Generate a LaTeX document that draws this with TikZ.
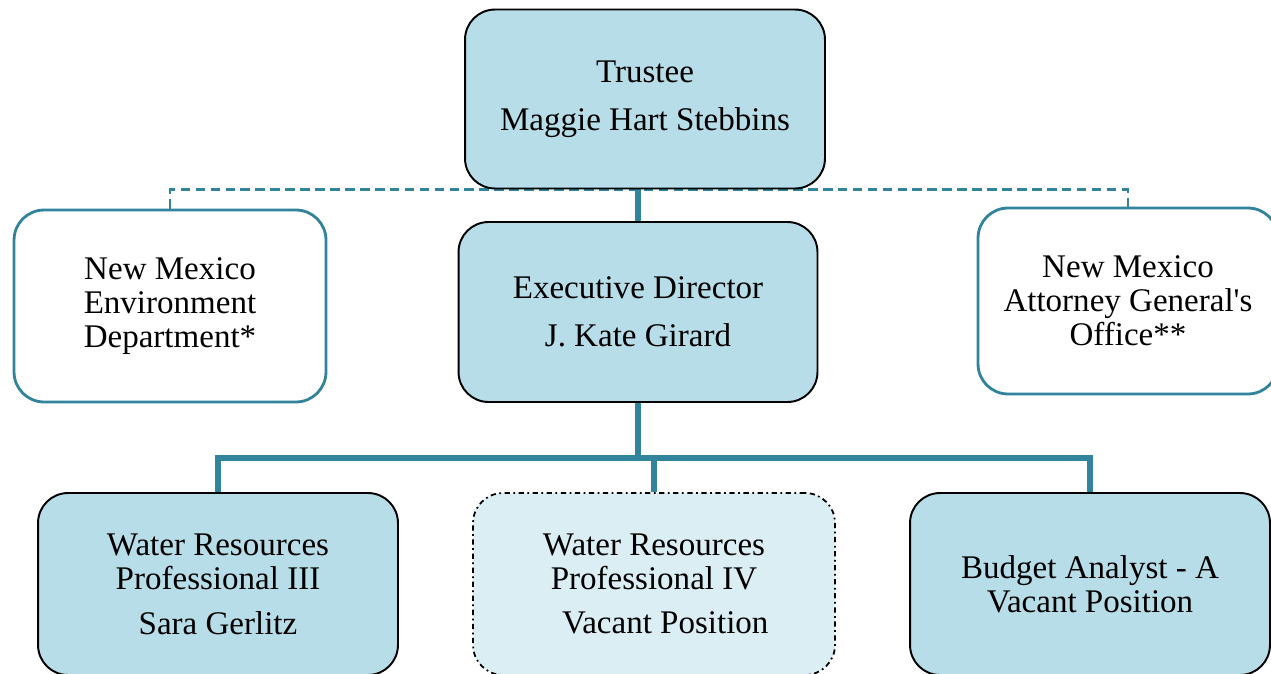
\documentclass[tikz,border=0pt]{standalone}
\usepackage{fontspec}
\setmainfont{Liberation Serif}[Ligatures=TeXOff]
\usetikzlibrary{backgrounds}

\definecolor{boxblue}{HTML}{B7DDE8}
\definecolor{paleblue}{HTML}{DBEEF3}
\definecolor{tealline}{HTML}{31849B}

\begin{document}
\begin{tikzpicture}[x=0.02cm, y=-0.02cm,
		box/.style={rectangle, rounded corners=0.6cm, align=center, inner sep=0pt,
			font=\fontsize{18.8}{19.4}\selectfont},
		filled/.style={box, fill=boxblue, draw=black, line width=1.1pt},
		outer/.style={box, fill=white, draw=tealline, line width=1.6pt},
		vacant/.style={box, fill=paleblue, draw=black, line width=1pt, dash dot},
		link/.style={draw=tealline, line width=3.4pt},
		dotlink/.style={draw=tealline, line width=1.6pt, dash pattern=on 5.5pt off 3pt}]
		\useasboundingbox (0,0) rectangle (1271,673);
		\node (trustee) [filled, minimum width=7.2cm, minimum height=3.58cm] at (645,99)
			{Trustee\\[8pt] Maggie Hart Stebbins};
		\node (env) [outer, minimum width=6.24cm, minimum height=3.84cm] at (170,306)
			{New Mexico\\ Environment\\ Department*};
		\node (exec) [filled, minimum width=7.18cm, minimum height=3.6cm] at (638,312)
			{Executive Director\\[8pt] J. Kate Girard};
		\node (ag) [outer, minimum width=6.0cm, minimum height=3.72cm] at (1128,301)
			{New Mexico\\ Attorney General's\\ Office**};
		\node (wrp3) [filled, minimum width=7.2cm, minimum height=3.64cm] at (218,584)
			{Water Resources\\ Professional III\\[6pt] Sara Gerlitz};
		\node (wrp4) [vacant, minimum width=7.24cm, minimum height=3.64cm] at (654,584)
			{Water Resources\\ Professional IV\\[6pt] \hspace*{0.45cm}Vacant Position};
		\node (budget) [filled, minimum width=7.2cm, minimum height=3.64cm] at (1090,584)
			{Budget Analyst - A\\ Vacant Position};
		\coordinate (bus) at (638,458);
		\begin{scope}[on background layer]
			\path[dotlink]
			(env.north) -- (env.north |- trustee.south) -- (ag.north |- trustee.south) -- (ag.north);
			\path[link]
			(trustee.south -| exec.north) -- (exec.north)
			(exec.south) -- (bus)
			(wrp3.north) |- (bus) -| (budget.north)
			(wrp4.north) -- (wrp4.north |- bus);
		\end{scope}
	\end{tikzpicture}
\end{document}
